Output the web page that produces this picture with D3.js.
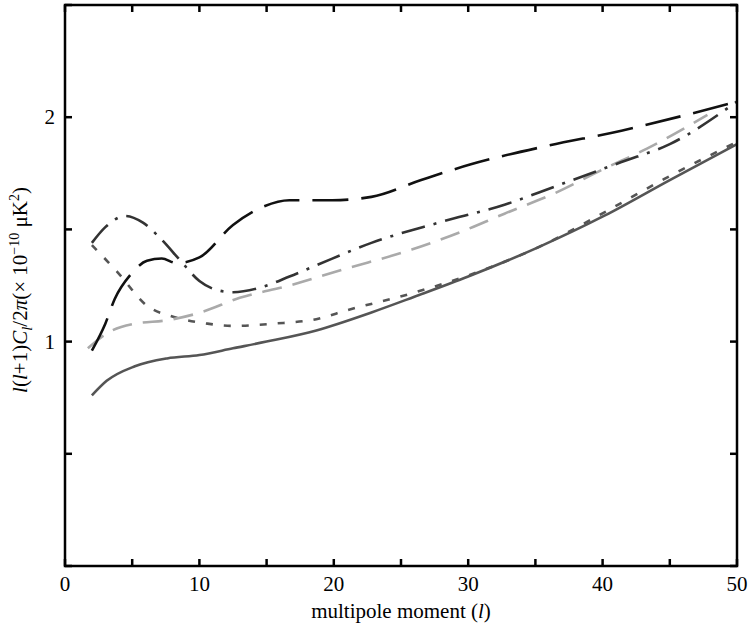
<!DOCTYPE html>
<html>
<head>
<style>
  body { margin:0; background:#fff; }
  text { font-family: "Liberation Serif", "Times New Roman", serif; }
</style>
</head>
<body>
<svg id="chart" width="749" height="631"></svg>
<script src="https://d3js.org/d3.v7.min.js"></script>
<script>
// [multipole l, value]
const solid = [[2.0,0.76],[3.1,0.825],[5.2,0.89],[7.6,0.925],[10,0.94],[12.5,0.97],[15,1.0],[18.7,1.05],[22.8,1.13],[26,1.2],[30,1.29],[35.2,1.42],[40.1,1.56],[45,1.72],[50,1.88]];
const shortDash = [[2,1.43],[3.9,1.31],[6.1,1.16],[8.1,1.11],[10.6,1.08],[12.5,1.07],[15.5,1.08],[18.7,1.1],[21,1.14],[25.8,1.215],[30.7,1.31],[35.2,1.42],[40.1,1.575],[44.6,1.725],[50,1.89]];
const greyDash = [[1.7,0.97],[3.2,1.04],[5.2,1.08],[7.6,1.095],[10.1,1.13],[13,1.195],[16.7,1.25],[20.6,1.32],[25.8,1.41],[29.5,1.49],[32.7,1.57],[36.4,1.66],[40.1,1.77],[43.3,1.86],[47.8,2.01]];
const dashDot = [[2,1.44],[3,1.51],[4.5,1.56],[5.8,1.53],[7.1,1.46],[8.6,1.36],[10,1.27],[11.3,1.23],[12.5,1.22],[14.5,1.24],[16.7,1.29],[18.7,1.34],[22.8,1.44],[27.8,1.53],[32.7,1.61],[36.4,1.69],[41.4,1.80],[45,1.88],[50,2.07]];
const longDash = [[2,0.96],[3,1.08],[3.7,1.19],[4.9,1.30],[6.1,1.36],[7.2,1.37],[8.3,1.35],[10,1.375],[12.5,1.52],[14.7,1.60],[16.7,1.63],[19.9,1.63],[22.8,1.645],[26.5,1.72],[30.2,1.79],[35.7,1.87],[41.4,1.94],[47.5,2.03],[50,2.07]];

const series = [
  {data: solid,     color:'#555', dash:null},
  {data: shortDash, color:'#555', dash:'7,11'},
  {data: greyDash,  color:'#aaa', dash:'20,11'},
  {data: dashDot,   color:'#333', dash:'24,9,3,9'},
  {data: longDash,  color:'#111', dash:'36,13'}
];
const xLabels = [0,10,20,30,40,50];
const yLabels = [1,2];

const L = 65, R = 737, T = 5, B = 566;
const svg = d3.select('#chart');
const x = d3.scaleLinear().domain([0,50]).range([L,R]);
const y = d3.scaleLinear().domain([0,2.5]).range([B,T]);

const line = d3.line().x(d => x(d[0])).y(d => y(d[1])).curve(d3.curveMonotoneX);
series.forEach(s => {
  svg.append('path').attr('d', line(s.data)).attr('fill','none')
    .attr('stroke', s.color).attr('stroke-width', 2.6)
    .attr('stroke-dasharray', s.dash);
});

// inward ticks on all four sides
const tk = 7;
d3.range(0, 51, 5).forEach(v => {
  svg.append('line').attr('x1',x(v)).attr('x2',x(v)).attr('y1',B).attr('y2',B-tk).attr('stroke','#000').attr('stroke-width',2.5);
  svg.append('line').attr('x1',x(v)).attr('x2',x(v)).attr('y1',T).attr('y2',T+tk).attr('stroke','#000').attr('stroke-width',2.5);
});
d3.range(0, 2.51, 0.5).forEach(v => {
  svg.append('line').attr('y1',y(v)).attr('y2',y(v)).attr('x1',L).attr('x2',L+tk).attr('stroke','#000').attr('stroke-width',2.5);
  svg.append('line').attr('y1',y(v)).attr('y2',y(v)).attr('x1',R).attr('x2',R-tk).attr('stroke','#000').attr('stroke-width',2.5);
});
svg.append('rect').attr('x',L).attr('y',T).attr('width',R-L).attr('height',B-T)
  .attr('fill','none').attr('stroke','#000').attr('stroke-width',2.5);

svg.selectAll('.xl').data(xLabels).enter().append('text')
  .attr('x', d => x(d)).attr('y', B+25).attr('text-anchor','middle')
  .attr('font-size', 21).text(d => d);
svg.selectAll('.yl').data(yLabels).enter().append('text')
  .attr('x', L-10).attr('y', d => y(d)+7).attr('text-anchor','end')
  .attr('font-size', 21).text(d => d);

const xt = svg.append('text').attr('x', x(25)).attr('y', 618).attr('text-anchor','middle').attr('font-size',21);
xt.append('tspan').text('multipole moment (');
xt.append('tspan').attr('font-style','italic').text('l');
xt.append('tspan').text(')');

const yt = svg.append('text').attr('transform','translate(27,290) rotate(-90)')
  .attr('text-anchor','middle').attr('font-size',21);
yt.append('tspan').attr('font-style','italic').text('l');
yt.append('tspan').text('(');
yt.append('tspan').attr('font-style','italic').text('l');
yt.append('tspan').text('+1)');
yt.append('tspan').attr('font-style','italic').text('C');
yt.append('tspan').attr('font-style','italic').attr('font-size',15).attr('dy',5).text('l');
yt.append('tspan').attr('dy',-5).text('/2');
yt.append('tspan').attr('font-style','italic').text('π');
yt.append('tspan').text('(× 10');
yt.append('tspan').attr('font-size',14).attr('dy',-8).text('−10');
yt.append('tspan').attr('dy',8).text(' μK');
yt.append('tspan').attr('font-size',14).attr('dy',-8).text('2');
yt.append('tspan').attr('dy',8).text(')');
</script>
</body>
</html>
